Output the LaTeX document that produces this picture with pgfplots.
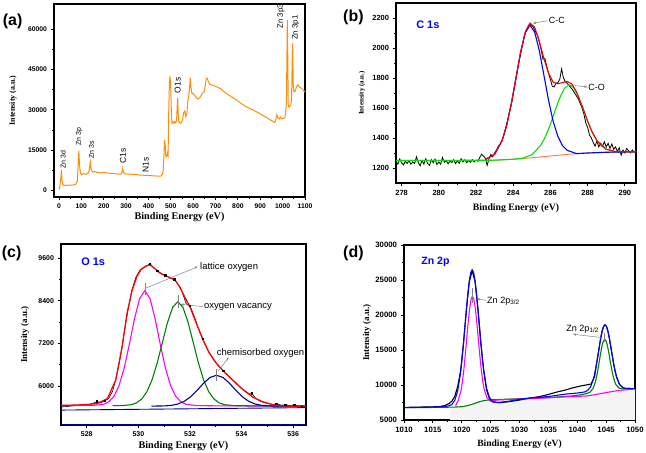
\documentclass[border=0pt]{standalone}
\usepackage{fontspec}
\setmainfont{Liberation Sans}
\newfontfamily\tnr{Liberation Serif}
\usepackage{pgfplots}
\pgfplotsset{compat=1.18}
\usetikzlibrary{arrows.meta}
\newcommand{\fs}[1]{\fontsize{#1}{#1}\selectfont}
\definecolor{surv}{RGB}{255,140,10}
\definecolor{lime}{RGB}{0,225,0}
\definecolor{bgor}{RGB}{255,120,60}
\definecolor{dgreen}{RGB}{0,128,0}
\definecolor{navyb}{RGB}{0,0,150}
\definecolor{mag}{RGB}{255,0,255}
\definecolor{pblue}{RGB}{0,0,255}
\tikzset{ann/.style={gray, line width=0.5pt}}
\pgfplotsset{
 panel/.style={
  scale only axis, anchor=south west,
  axis line style={line width=1.2pt},
  tick align=outside, xtick pos=bottom, ytick pos=left,
  major tick length=3.5pt, minor tick length=2pt,
  every tick/.append style={black, line width=0.8pt},
  minor x tick num=1, minor y tick num=1,
  scaled ticks=false,
  /pgf/number format/1000 sep={},
  /pgf/number format/assume math mode=true,
  clip=false,
  xlabel={Binding Energy (eV)}, ylabel={Intensity (a.u.)},
  every axis plot/.append style={line width=1.1pt, mark=none},
 },
}
\begin{document}
\begin{tikzpicture}
\useasboundingbox (0,0) rectangle (646bp,453bp);
% ---------------- (a) ----------------
\begin{axis}[panel, at={(54bp,256bp)}, width=251bp, height=193bp,
  xmin=-22, xmax=1100, ymin=-2500, ymax=69450,
  xtick={0,100,...,1100}, ytick={0,15000,30000,45000,60000},
  ticklabel style={font=\bfseries\fs{6.8}},
  xlabel style={font=\tnr\bfseries\fs{10.2}, at={(axis description cs:0.5,-0.105)}, anchor=center},
  ylabel style={font=\tnr\bfseries\fs{8}, at={(axis description cs:-0.163,0.5)}, anchor=center}]
\addplot[surv, line width=1pt] coordinates {(0,300)(3,900)(8,4000)(11,7600)(14,3500)(18,2000)(25,1800)(40,1900)(60,1900)(75,2200)(82,3500)(86,9000)(89,14800)(92,9500)(96,6500)(102,5800)(110,6200)(120,6000)(130,6300)(136,7500)(140,10700)(144,7800)(150,6800)(160,7000)(170,6700)(190,6500)(200,6700)(220,6400)(250,6200)(270,6000)(280,6000)(283,7000)(285,8200)(288,6800)(295,6100)(320,6000)(340,5900)(360,5700)(380,5600)(400,5500)(420,5400)(440,5300)(455,5300)(462,5800)(466,7000)(469,12000)(472,18800)(475,17000)(478,12500)(482,12600)(485,13800)(488,13000)(491,30000)(494,40000)(497,42600)(500,38000)(503,28000)(506,25000)(510,25500)(514,25000)(518,25600)(522,25200)(526,26000)(529,32000)(531,34500)(533,29000)(536,25500)(545,25000)(552,26000)(558,29000)(563,29600)(567,27500)(572,28500)(576,33500)(580,35000)(584,38000)(587,42000)(590,38500)(595,36000)(601,36000)(610,35000)(620,34000)(630,34500)(640,36000)(648,36500)(652,38000)(658,41500)(663,41800)(668,40500)(675,39500)(700,38800)(720,38000)(750,36000)(795,33600)(830,31500)(869,29900)(900,28500)(930,27000)(958,25600)(965,25300)(970,26500)(974,28100)(978,27000)(985,26600)(990,27300)(995,26600)(1003,26800)(1010,27000)(1014,29500)(1017,33000)(1019,48000)(1021,63500)(1023,50000)(1025,32000)(1028,31000)(1032,31500)(1036,31500)(1040,34000)(1042,45000)(1045,54800)(1047,40000)(1050,36800)(1055,36800)(1062,38500)(1068,39300)(1075,38500)(1085,38000)(1093,37300)(1100,36600)};
\node[rotate=90, anchor=west, font=\fs{7}] at (axis cs:19,6900) {Zn 3d};
\node[rotate=90, anchor=west, font=\fs{7}] at (axis cs:91,15400) {Zn 3p};
\node[rotate=90, anchor=west, font=\fs{7}] at (axis cs:146,10600) {Zn 3s};
\node[rotate=90, anchor=west, font=\fs{8.5}] at (axis cs:286,8800) {C1s};
\node[rotate=90, anchor=west, font=\fs{8.5}] at (axis cs:388,5400) {N1s};
\node[rotate=90, anchor=west, font=\fs{8.5}] at (axis cs:531,34900) {O1s};
\node[rotate=90, anchor=west, font=\fs{7.8}] at (axis cs:993,59100) {Zn 3p3};
\node[rotate=90, anchor=west, font=\fs{7.8}] at (axis cs:1058,54800) {Zn 3p1};
\end{axis}
% ---------------- (b) ----------------
\begin{axis}[panel, at={(396bp,270bp)}, width=240bp, height=180bp,
  xmin=277.7, xmax=290.6, ymin=1100, ymax=2300,
  xtick={278,280,...,290}, ytick={1200,1400,...,2200},
  ticklabel style={font=\bfseries\fs{7.5}},
  xlabel style={font=\tnr\bfseries\fs{9.8}, at={(axis description cs:0.5,-0.139)}, anchor=center},
  ylabel style={font=\tnr\bfseries\fs{7}, at={(axis description cs:-0.142,0.5)}, anchor=center}]
\addplot[black, line width=0.8pt] coordinates {(277.7,1240)(277.8,1225)(277.9,1260)(278.0,1235)(278.1,1220)(278.2,1245)(278.3,1230)(278.4,1250)(278.5,1225)(278.6,1240)(278.7,1230)(278.8,1275)(278.9,1235)(279.0,1215)(279.1,1250)(279.2,1225)(279.3,1262)(279.4,1230)(279.5,1218)(279.6,1255)(279.7,1235)(279.8,1260)(279.9,1222)(280.0,1240)(280.1,1225)(280.2,1270)(280.3,1238)(280.4,1250)(280.5,1228)(280.6,1245)(280.7,1236)(280.8,1255)(280.9,1230)(281.0,1248)(281.1,1232)(281.2,1262)(281.3,1240)(281.4,1255)(281.5,1235)(281.6,1250)(281.7,1238)(281.8,1256)(281.9,1240)(282.0,1252)(282.1,1245)(282.2,1270)(282.3,1292)(282.4,1280)(282.5,1265)(282.6,1218)(282.7,1262)(282.8,1290)(282.9,1275)(283.0,1300)(283.1,1320)(283.2,1345)(283.3,1360)(283.4,1385)(283.5,1420)(283.6,1470)(283.7,1520)(283.8,1575)(283.9,1625)(284.0,1690)(284.1,1760)(284.2,1830)(284.3,1900)(284.4,1960)(284.5,2020)(284.6,2080)(284.7,2120)(284.8,2145)(284.9,2160)(285.0,2150)(285.1,2135)(285.2,2110)(285.3,2085)(285.4,2040)(285.5,1990)(285.6,1925)(285.7,1930)(285.8,1880)(285.9,1830)(286.0,1790)(286.1,1745)(286.2,1740)(286.3,1765)(286.4,1770)(286.5,1790)(286.6,1860)(286.7,1800)(286.8,1775)(286.9,1765)(287.0,1750)(287.1,1735)(287.2,1720)(287.3,1700)(287.4,1680)(287.5,1660)(287.6,1630)(287.7,1600)(287.8,1560)(287.9,1500)(288.0,1470)(288.1,1420)(288.2,1400)(288.3,1370)(288.4,1345)(288.5,1380)(288.6,1340)(288.7,1365)(288.8,1345)(288.9,1375)(289.0,1340)(289.1,1365)(289.2,1330)(289.3,1360)(289.4,1325)(289.5,1340)(289.6,1310)(289.7,1335)(289.8,1285)(289.9,1320)(290.0,1300)(290.1,1330)(290.2,1315)(290.3,1300)(290.4,1320)(290.5,1305)(290.6,1310)};
\addplot[bgor, line width=0.9pt] coordinates {(277.7,1250)(282,1250)(283,1252)(284,1258)(285,1268)(286,1280)(287,1292)(288,1300)(289,1305)(290.6,1308)};
\addplot[lime] coordinates {(277.7,1250)(283,1252)(284,1258)(284.5,1265)(285,1288)(285.5,1354)(285.75,1414)(286,1492)(286.25,1582)(286.5,1667)(286.75,1730)(287,1755)(287.25,1735)(287.5,1677)(287.75,1597)(288,1512)(288.25,1438)(288.5,1382)(288.75,1345)(289,1325)(289.5,1309)(290,1307)(290.6,1308)};
\addplot[pblue] coordinates {(282.5,1257)(283,1291)(283.4,1382)(283.65,1484)(283.9,1630)(284.15,1802)(284.4,1973)(284.65,2102)(284.9,2151)(285.15,2107)(285.4,1984)(285.65,1818)(285.9,1651)(286.15,1509)(286.4,1411)(286.65,1349)(286.9,1318)(287.4,1296)(288,1300)(289,1305)(290.6,1308)};
\addplot[red] coordinates {(282.5,1257)(283,1291)(283.4,1382)(283.65,1484)(283.9,1630)(284.15,1803)(284.4,1975)(284.65,2108)(284.9,2166)(285.15,2139)(285.4,2047)(285.65,1929)(285.9,1831)(286.15,1772)(286.4,1761)(286.65,1770)(286.9,1777)(287.15,1760)(287.4,1708)(287.75,1598)(288,1512)(288.25,1438)(288.5,1382)(289,1325)(289.5,1309)(290.6,1308)};
\node[anchor=west, font=\bfseries\fs{11}, text=pblue] at (axis cs:278.6,2155) {C 1s};
\draw[ann, {Stealth[length=3pt,width=2.5pt]}-] (axis cs:285.07,2165) -- (axis cs:285.85,2182);
\node[anchor=west, font=\fs{9}, inner sep=1pt] at (axis cs:285.85,2182) {C-C};
\draw[ann, -{Stealth[length=3pt,width=2.5pt]}] (axis cs:287.09,1752) -- (axis cs:287.98,1740);
\node[anchor=west, font=\fs{9}, inner sep=1pt] at (axis cs:287.98,1740) {C-O};
\end{axis}
% ---------------- (c) ----------------
\begin{axis}[panel, at={(61bp,28bp)}, width=245bp, height=181bp,
  xmin=527, xmax=536.5, ymin=4900, ymax=10000,
  xtick={528,530,...,536}, ytick={6000,7200,8400,9600},
  ticklabel style={font=\bfseries\fs{7}},
  xlabel style={font=\tnr\bfseries\fs{10.2}, at={(axis description cs:0.5,-0.116)}, anchor=center},
  ylabel style={font=\tnr\bfseries\fs{9}, at={(axis description cs:-0.147,0.5)}, anchor=center}]
\addplot[navyb, line width=0.9pt] coordinates {(527,4910)(536.5,4910)};
\addplot[navyb, line width=0.9pt] coordinates {(527,5320)(536.5,5390)};
\addplot[black, line width=0.6pt] coordinates {(527.0,5410)(527.2,5420)(527.5,5440)(527.8,5455)(528.1,5480)(528.3,5530)(528.4,5560)(528.55,5530)(528.7,5580)(528.85,5650)(529.0,5850)(529.15,6250)(529.3,6800)(529.45,7500)(529.6,8150)(529.75,8700)(529.9,9060)(530.05,9250)(530.2,9340)(530.35,9400)(530.45,9440)(530.6,9330)(530.75,9240)(530.9,9160)(531.05,9110)(531.2,9060)(531.4,9000)(531.55,8850)(531.7,8650)(531.85,8320)(532.0,8250)(532.15,8000)(532.3,7680)(532.5,7320)(532.7,7000)(532.9,6760)(533.1,6570)(533.3,6420)(533.5,6280)(533.7,6140)(533.9,6000)(534.1,5880)(534.25,5800)(534.4,5790)(534.55,5650)(534.75,5560)(535.0,5510)(535.2,5480)(535.35,5490)(535.55,5460)(535.7,5470)(535.9,5450)(536.05,5460)(536.2,5430)(536.35,5410)(536.5,5420)};
\addplot[mag] coordinates {(527.0,5450)(528.25,5453)(528.65,5482)(528.85,5551)(529.05,5707)(529.25,6009)(529.45,6504)(529.65,7172)(529.85,7894)(530.05,8465)(530.25,8685)(530.45,8465)(530.65,7894)(530.85,7172)(531.05,6504)(531.25,6009)(531.45,5707)(531.65,5551)(531.85,5482)(532.25,5448)(533,5440)(536.5,5430)};
\addplot[dgreen] coordinates {(529.0,5444)(529.33,5444)(529.73,5473)(529.93,5524)(530.13,5633)(530.33,5836)(530.53,6170)(530.73,6645)(530.93,7220)(531.13,7789)(531.33,8215)(531.53,8373)(531.73,8215)(531.93,7789)(532.13,7220)(532.33,6645)(532.53,6170)(532.73,5836)(532.93,5633)(533.13,5524)(533.33,5473)(533.73,5444)(534.5,5440)(536.5,5435)};
\addplot[navyb] coordinates {(530.5,5432)(531.03,5438)(531.28,5453)(531.53,5491)(531.78,5567)(532.03,5697)(532.28,5878)(532.53,6079)(532.78,6240)(533.03,6302)(533.28,6240)(533.53,6079)(533.78,5878)(534.03,5697)(534.28,5567)(534.53,5491)(534.78,5453)(535.03,5438)(535.5,5431)(536.5,5430)};
\addplot[red, line width=1.3pt] coordinates {(527.0,5455)(527.5,5460)(528.0,5475)(528.4,5503)(528.8,5644)(529.12,6161)(529.37,7102)(529.56,8045)(529.76,8703)(529.95,9100)(530.1,9280)(530.3,9380)(530.46,9410)(530.6,9330)(530.8,9200)(531.0,9120)(531.2,9060)(531.42,8986)(531.6,8800)(531.8,8500)(532.0,8232)(532.25,7760)(532.51,7291)(532.75,6930)(533.03,6633)(533.35,6380)(533.67,6161)(534.0,5930)(534.43,5689)(534.8,5560)(535.2,5474)(535.6,5440)(536.0,5425)(536.5,5420)};
\addplot[only marks, mark=square*, mark size=0.7pt, black] coordinates {(528.4,5560)(528.7,5580)(530.45,9440)(530.75,9240)(531.05,9110)(531.4,9000)(532.0,8250)(532.5,7320)(533.3,6420)(534.4,5790)(535.35,5490)(535.7,5470)(536.05,5460)(536.35,5410)};
\node[anchor=west, font=\bfseries\fs{11}, text=pblue] at (axis cs:527.65,9494) {O 1s};
\draw[ann] (axis cs:530.25,8550) -- (axis cs:530.25,8900);
\draw[ann, -{Stealth[length=3pt,width=2.5pt]}] (axis cs:530.3,8760) -- (axis cs:532.3,9360);
\node[anchor=west, font=\fs{9.5}, inner sep=1pt] at (axis cs:532.35,9340) {lattice oxygen};
\draw[ann] (axis cs:531.53,8200) -- (axis cs:531.53,8560);
\draw[ann, {Stealth[length=3pt,width=2.5pt]}-] (axis cs:531.65,8300) -- (axis cs:532.5,8235);
\node[anchor=west, font=\fs{9.5}, inner sep=1pt] at (axis cs:532.5,8235) {oxygen vacancy};
\draw[ann] (axis cs:533.03,6130) -- (axis cs:533.03,6480);
\draw[ann, -{Stealth[length=3pt,width=2.5pt]}] (axis cs:533.1,6420) -- (axis cs:533.5,6800);
\node[anchor=west, font=\fs{9.5}, inner sep=1pt] at (axis cs:533.0,6935) {chemisorbed oxygen};
\end{axis}
% ---------------- (d) ----------------
\begin{axis}[panel, at={(404bp,33bp)}, width=231bp, height=175bp,
  xmin=1010, xmax=1050, ymin=5000, ymax=30000,
  xtick={1010,1015,...,1050}, ytick={5000,10000,...,30000},
  ticklabel style={font=\bfseries\fs{7.8}},
  xlabel style={font=\tnr\bfseries\fs{9.6}, at={(axis description cs:0.5,-0.139)}, anchor=center},
  ylabel style={font=\tnr\bfseries\fs{9}, at={(axis description cs:-0.160,0.5)}, anchor=center}]
\addplot[draw=none, fill=gray!9] coordinates {(1018,5000)(1018,6900)(1020,6950)(1022,7300)(1024,7800)(1030,8050)(1036,8250)(1041,8650)(1045,9000)(1050,9450)(1050,5000)} -- cycle;
\addplot[black] coordinates {(1010,6800)(1013,6850)(1016,6900)(1017,7050)(1017.8,7350)(1018.3,7700)(1018.8,8400)(1019.3,9800)(1019.8,12000)(1020.3,16000)(1020.8,20700)(1021.3,24700)(1021.8,26300)(1022.3,24800)(1022.8,20800)(1023.3,16000)(1023.8,12000)(1024.3,9300)(1024.8,8000)(1025.3,7600)(1026.5,7470)(1028,7600)(1030,7850)(1031.5,8100)(1033.4,8330)(1035,8650)(1036.5,9000)(1038,9290)(1039,9550)(1040.6,9860)(1042.4,10140)(1043,11200)(1043.3,12830)(1043.55,14050)(1043.8,15360)(1044.05,16630)(1044.3,17670)(1044.55,18350)(1044.8,18600)(1045.05,18400)(1045.3,17720)(1045.55,16730)(1045.8,15500)(1046.05,14250)(1046.3,13030)(1046.55,12015)(1046.8,11160)(1047.3,10120)(1047.8,9680)(1048.3,9510)(1050,9480)};
\addplot[dgreen] coordinates {(1010,6760)(1016,6800)(1019,6850)(1020,6900)(1021,7050)(1022,7300)(1023,7600)(1024,7800)(1025,7880)(1028,7980)(1032,8100)(1036,8250)(1039,8430)(1041,8650)(1041.75,8830)(1042.25,9006)(1042.75,9533)(1043.0,10045)(1043.25,10805)(1043.5,11818)(1043.75,13016)(1044.0,14297)(1044.25,15435)(1044.5,16237)(1044.75,16530)(1045.0,16287)(1045.25,15535)(1045.5,14447)(1045.75,13226)(1046.0,12088)(1046.25,11135)(1046.5,10435)(1046.75,9973)(1047.25,9556)(1047.75,9459)(1050,9450)};
\addplot[mag] coordinates {(1018.95,7000)(1019.1,7360)(1019.35,7690)(1019.85,9120)(1020.1,10390)(1020.35,12100)(1020.6,14190)(1020.85,16530)(1021.1,18850)(1021.35,20850)(1021.6,22210)(1021.85,22700)(1022.1,22260)(1022.35,20950)(1022.6,19000)(1022.85,16730)(1023.1,14440)(1023.35,12400)(1023.6,10740)(1023.85,9520)(1024.35,8190)(1024.85,7720)(1025.35,7700)(1026,7850)(1030,8000)(1033.4,8100)(1038,8300)(1041.6,8430)(1043,8600)(1044.9,8900)(1047,9200)(1050,9450)};
\addplot[pblue] coordinates {(1010,6760)(1014,6820)(1016,6880)(1017.3,6960)(1017.8,7030)(1018.3,7230)(1018.8,7810)(1019.3,9170)(1019.8,11810)(1020.05,13680)(1020.3,15880)(1020.55,18280)(1020.8,20740)(1021.05,23000)(1021.3,24830)(1021.55,26040)(1021.8,26450)(1022.05,26090)(1022.3,24930)(1022.55,23150)(1022.8,20940)(1023.05,18530)(1023.3,16180)(1023.55,13980)(1023.8,12160)(1024.3,9520)(1024.8,8210)(1025.3,7680)(1025.8,7530)(1026.3,7500)(1028,7650)(1030,7950)(1032,8150)(1035,8350)(1038,8700)(1040,8850)(1041.3,9010)(1041.8,9230)(1042.3,9720)(1042.8,10860)(1043.05,11715)(1043.3,12830)(1043.55,14050)(1043.8,15360)(1044.05,16630)(1044.3,17670)(1044.55,18350)(1044.8,18600)(1045.05,18400)(1045.3,17720)(1045.55,16730)(1045.8,15500)(1046.05,14250)(1046.3,13030)(1046.55,12015)(1046.8,11160)(1047.3,10120)(1047.8,9680)(1048.3,9510)(1050,9480)};
\node[anchor=west, font=\bfseries\fs{10.6}, text=pblue] at (axis cs:1012.4,27570) {Zn 2p};
\draw[ann] (axis cs:1021.85,21700) -- (axis cs:1021.85,23900);
\draw[ann, {Stealth[length=3pt,width=2.5pt]}-] (axis cs:1022.6,22300) -- (axis cs:1024.2,22100);
\node[anchor=west, font=\fs{9.1}, inner sep=1pt] at (axis cs:1024.2,22000) {Zn 2p\textsubscript{3/2}};
\draw[ann] (axis cs:1044.6,16200) -- (axis cs:1044.6,17400);
\draw[ann, -{Stealth[length=3pt,width=2.5pt]}] (axis cs:1044.4,16760) -- (axis cs:1039.3,17250);
\node[anchor=west, font=\fs{9.1}, inner sep=1pt] at (axis cs:1037.9,18000) {Zn 2p\textsubscript{1/2}};
\end{axis}
% panel letters
\node[anchor=west, font=\bfseries\fs{16}, inner sep=0pt] at (2.7bp,432bp) {(a)};
\node[anchor=west, font=\bfseries\fs{16}, inner sep=0pt] at (343bp,436bp) {(b)};
\node[anchor=west, font=\bfseries\fs{16}, inner sep=0pt] at (1.7bp,200bp) {(c)};
\node[anchor=west, font=\bfseries\fs{16}, inner sep=0pt] at (343bp,200bp) {(d)};
\end{tikzpicture}
\end{document}
